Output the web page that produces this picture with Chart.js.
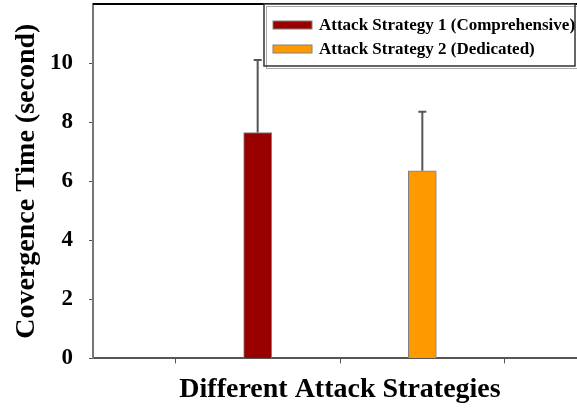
<!DOCTYPE html>
<html>
<head>
<meta charset="utf-8">
<script src="https://cdn.jsdelivr.net/npm/chart.js@4"></script>
<style>
  body { margin: 0; overflow: hidden; background: #fff; }
  #wrap { width: 587px; height: 408px; }
</style>
</head>
<body>
<div id="wrap"><canvas id="convChart" width="587" height="408"></canvas></div>
<script>
// Valores
const categories = ['Attack Strategy 1 (Comprehensive)', 'Attack Strategy 2 (Dedicated)'];
const meanTimes = [7.65, 6.35];
const errorTimes = [2.45, 2.0];
const yTicks = [0, 2, 4, 6, 8, 10];
const barColors = ['#990000', '#FF9900'];

const serif = '"Liberation Serif", "Times New Roman", serif';

// Eixo x: uma categoria vazia em cada ponta
const xLabels = [''].concat(categories, ['']);

const datasets = categories.map(function (name, i) {
  const values = xLabels.map(function () { return null; });
  values[i + 1] = meanTimes[i];
  return {
    label: name,
    data: values,
    backgroundColor: barColors[i],
    borderColor: '#808080',
    borderWidth: 1,
    barThickness: 28,
    grouped: false
  };
});

// Barras de erro (só para cima), moldura superior e legenda
const errorBars = {
  id: 'errorBars',
  afterDatasetsDraw(chart) {
    const ctx = chart.ctx;
    const y = chart.scales.y;
    ctx.save();
    ctx.strokeStyle = '#555';
    ctx.lineWidth = 2;
    chart.data.datasets.forEach(function (ds, i) {
      const el = chart.getDatasetMeta(i).data[i + 1];
      const top = y.getPixelForValue(meanTimes[i] + errorTimes[i]);
      ctx.beginPath();
      ctx.moveTo(el.x, el.y);
      ctx.lineTo(el.x, top);
      ctx.moveTo(el.x - 4, top);
      ctx.lineTo(el.x + 4, top);
      ctx.stroke();
    });
    ctx.restore();
  },
  afterDraw(chart) {
    const ctx = chart.ctx;
    const area = chart.chartArea;
    ctx.save();
    ctx.strokeStyle = '#000';
    ctx.lineWidth = 2;
    ctx.beginPath();
    ctx.moveTo(area.left, area.top);
    ctx.lineTo(area.right, area.top);
    ctx.stroke();

    // legenda em caixa
    const bx = 264, by = 4, bw = 311, bh = 62;
    ctx.fillStyle = '#fff';
    ctx.fillRect(bx, by, bw, bh);
    ctx.strokeStyle = '#aaa';
    ctx.lineWidth = 1;
    ctx.strokeRect(bx + 2.5, by + 2.5, bw, bh);
    ctx.strokeStyle = '#333';
    ctx.lineWidth = 1.5;
    ctx.strokeRect(bx, by, bw, bh);
    ctx.font = 'bold 17px ' + serif;
    ctx.textBaseline = 'middle';
    chart.data.datasets.forEach(function (ds, i) {
      const ly = 25 + i * 24;
      ctx.fillStyle = ds.backgroundColor;
      ctx.fillRect(273, ly - 4, 39, 8);
      ctx.strokeStyle = '#808080';
      ctx.lineWidth = 1;
      ctx.strokeRect(273, ly - 4, 39, 8);
      ctx.fillStyle = '#000';
      ctx.fillText(ds.label, 319, ly + 1);
    });
    ctx.restore();
  }
};

new Chart(document.getElementById('convChart'), {
  type: 'bar',
  data: { labels: xLabels, datasets: datasets },
  options: {
    responsive: false,
    animation: false,
    layout: { padding: { top: 4, left: 0, right: 0, bottom: 0 } },
    plugins: {
      legend: { display: false },
      tooltip: { enabled: false }
    },
    scales: {
      x: {
        offset: false,
        grid: { drawOnChartArea: false, tickLength: 5, color: '#555' },
        border: { color: '#555', width: 2 },
        ticks: { display: false },
        title: {
          display: true,
          text: 'Different Attack Strategies',
          color: '#000',
          font: { family: serif, size: 28, weight: 'bold' },
          padding: { top: 10, bottom: 1 }
        }
      },
      y: {
        min: 0,
        max: 12,
        afterBuildTicks(scale) {
          scale.ticks = yTicks.map(function (v) { return { value: v }; });
        },
        afterFit(scale) {
          scale.paddingTop = 0;
          scale.paddingBottom = 0;
          scale.width = 93;
        },
        grid: { drawOnChartArea: false, tickLength: 4, color: '#555' },
        border: { color: '#777', width: 2 },
        ticks: {
          color: '#000',
          padding: 16,
          font: { family: serif, size: 23, weight: 'bold' }
        },
        title: {
          display: true,
          text: 'Covergence Time (second)',
          color: '#000',
          font: { family: serif, size: 28, weight: 'bold' },
          padding: { top: 10, bottom: 0 }
        }
      }
    }
  },
  plugins: [errorBars]
});
</script>
</body>
</html>
